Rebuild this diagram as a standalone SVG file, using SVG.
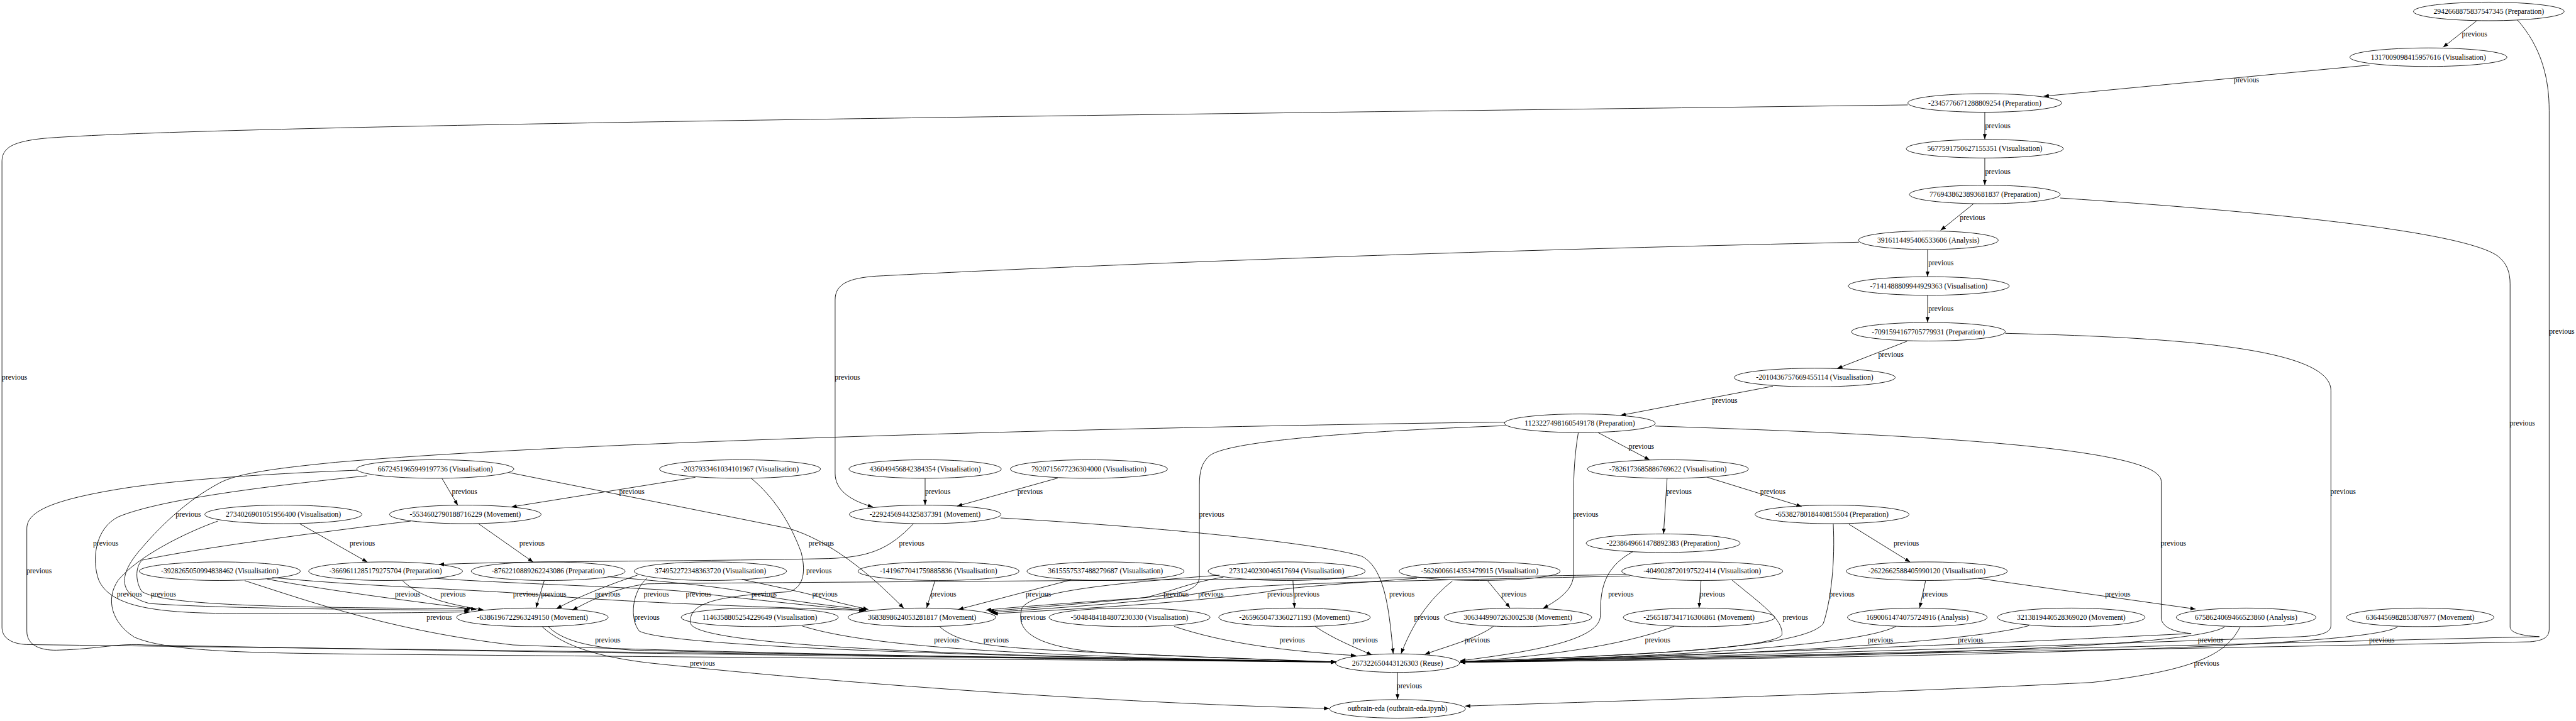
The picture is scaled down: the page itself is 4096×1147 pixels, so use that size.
<svg xmlns="http://www.w3.org/2000/svg" width="4096" height="1147" viewBox="0 0 4096 1147">
<defs>
<style>
.n ellipse{fill:none;stroke:#000;stroke-width:1.4}
.n text,.e text{font-family:"Liberation Serif","Times New Roman",serif;font-size:18.67px;text-anchor:middle;fill:#000}
.e path{fill:none;stroke:#000;stroke-width:1.4;marker-end:url(#ah)}
</style>
<marker id="ah" markerUnits="userSpaceOnUse" markerWidth="16" markerHeight="12" refX="13.3" refY="5" orient="auto"><path d="M0,0 L13.3,5 L0,10 z" fill="#000"/></marker>
</defs>
<rect width="4096" height="1147" fill="#fff"/>
<g transform="scale(0.62755)">
<g id="edges" class="e">
<path d="M6275,53 L6190,120"/><text x="6270" y="92">previous</text>
<path d="M6378,50 C6440,120 6459,200 6459,280 L6459,1595 C6459,1615 6445,1624 6410,1627 C5500,1645 4300,1665 3700,1679"/><text x="6491" y="846">previous</text>
<path d="M6004,165 L5178,244"/><text x="5692" y="209">previous</text>
<path d="M5029,285 L5029,353"/><text x="5062" y="325">previous</text>
<path d="M4834,266 C3000,290 600,315 120,350 C30,358 5,375 5,410 L5,1590 C5,1615 25,1632 68,1634 C1500,1652 2800,1668 3385,1678"/><text x="37" y="963">previous</text>
<path d="M5029,401 L5029,469"/><text x="5062" y="441">previous</text>
<path d="M5000,517 L4917,584"/><text x="4998" y="557">previous</text>
<path d="M5220,502 C5800,540 6250,590 6330,650 C6352,668 6360,690 6360,720 L6360,1590 C6362,1606 6395,1612 6434,1614 C5800,1628 4600,1662 3700,1679"/><text x="6391" y="1079">previous</text>
<path d="M4884,633 L4884,701"/><text x="4918" y="673">previous</text>
<path d="M4710,614 C3500,640 2600,680 2220,700 C2150,705 2116,720 2116,760 L2116,1200 C2116,1240 2150,1268 2212,1285"/><text x="2147" y="962">previous</text>
<path d="M4884,749 L4884,817"/><text x="4918" y="788">previous</text>
<path d="M4832,865 L4655,934"/><text x="4791" y="905">previous</text>
<path d="M5081,845 C5500,855 5906,880 5906,990 L5906,1585 C5906,1603 5885,1611 5830,1614 C5200,1638 4400,1662 3700,1679"/><text x="5937" y="1253">previous</text>
<path d="M4492,979 L4106,1053"/><text x="4370" y="1021">previous</text>
<path d="M4050,1097 L4180,1166"/><text x="4159" y="1137">previous</text>
<path d="M4193,1080 C4800,1100 5476,1130 5476,1220 L5476,1568 C5480,1595 5520,1603 5552,1606 C5300,1618 4900,1640 3700,1679"/><text x="5507" y="1383">previous</text>
<path d="M3999,1097 C3990,1150 3987,1200 3987,1260 L3987,1455 C3987,1495 3950,1520 3910,1542"/><text x="4018" y="1310">previous</text>
<path d="M3815,1079 C3400,1095 3110,1120 3065,1155 C3045,1172 3039,1195 3039,1230 L3039,1460 C3039,1495 3000,1505 2900,1515 C2700,1530 2550,1540 2498,1547"/><text x="3070" y="1310">previous</text>
<path d="M3813,1070 C3000,1080 1500,1115 850,1172 C700,1187 600,1200 555,1225 C470,1270 400,1340 350,1400 C300,1460 300,1510 380,1530 C600,1545 1000,1545 1190,1547"/><text x="477" y="1310">previous</text>
<path d="M2344,1213 L2344,1280"/><text x="2376" y="1253">previous</text>
<path d="M2680,1212 L2425,1283"/><text x="2610" y="1253">previous</text>
<path d="M2314,1328 C2250,1395 2200,1412 2100,1416 C1700,1424 1300,1422 1112,1431"/><text x="2310" y="1383">previous</text>
<path d="M1120,1213 L1160,1281"/><text x="1177" y="1253">previous</text>
<path d="M1762,1210 L1296,1285"/><text x="1601" y="1253">previous</text>
<path d="M760,1328 L931,1425"/><text x="918" y="1383">previous</text>
<path d="M1213,1328 L1351,1425"/><text x="1348" y="1383">previous</text>
<path d="M677,1468 C850,1500 1050,1525 1207,1545"/><text x="1033" y="1513">previous</text>
<path d="M1020,1472 C1060,1510 1120,1530 1225,1546"/><text x="1148" y="1513">previous</text>
<path d="M1379,1472 L1358,1541"/><text x="1403" y="1513">previous</text>
<path d="M1389,1588 C1420,1620 1480,1640 1600,1648 C2300,1665 3000,1674 3385,1679"/><text x="1540" y="1629">previous</text>
<path d="M1374,1589 C1430,1640 1520,1665 1640,1680 C2200,1740 2900,1785 3368,1796"/><text x="1780" y="1687">previous</text>
<path d="M3541,1705 L3541,1773"/><text x="3571" y="1745">previous</text>
<path d="M5676,1589 C5640,1660 5560,1700 5300,1730 C4700,1760 4000,1780 3712,1790"/><text x="5591" y="1687">previous</text>
<path d="M4224,1213 L4215,1353"/><text x="4254" y="1253">previous</text>
<path d="M4326,1210 L4565,1284"/><text x="4492" y="1253">previous</text>
<path d="M4685,1329 L4840,1425"/><text x="4830" y="1383">previous</text>
<path d="M4138,1398 C4060,1440 4055,1500 4055,1560 C4055,1620 3900,1650 3700,1675"/><text x="4107" y="1513">previous</text>
<path d="M4645,1328 C4650,1420 4640,1520 4620,1580 C4580,1640 4200,1660 3700,1677"/><text x="4667" y="1513">previous</text>
<path d="M4879,1472 L4864,1541"/><text x="4903" y="1513">previous</text>
<path d="M5012,1466 L5563,1544"/><text x="5366" y="1513">previous</text>
<path d="M4310,1472 L4305,1541"/><text x="4339" y="1513">previous</text>
<path d="M4388,1470 C4460,1530 4520,1570 4515,1610 C4480,1650 4000,1665 3700,1678"/><text x="4549" y="1571">previous</text>
<path d="M3769,1472 L3826,1541"/><text x="3836" y="1513">previous</text>
<path d="M3680,1473 C3620,1520 3580,1580 3550,1657"/><text x="3615" y="1571">previous</text>
<path d="M2535,1313 C3000,1340 3350,1380 3450,1410 C3510,1440 3520,1550 3530,1657"/><text x="3552" y="1513">previous</text>
<path d="M3332,1588 C3380,1620 3430,1640 3476,1660"/><text x="3459" y="1629">previous</text>
<path d="M3784,1588 C3740,1620 3660,1640 3610,1659"/><text x="3743" y="1629">previous</text>
<path d="M2975,1588 C3100,1630 3250,1650 3436,1662"/><text x="3274" y="1629">previous</text>
<path d="M4242,1588 C4100,1640 3900,1665 3700,1678"/><text x="4200" y="1629">previous</text>
<path d="M4804,1588 C4700,1640 4200,1665 3700,1679"/><text x="4765" y="1629">previous</text>
<path d="M5141,1586 C5000,1625 4500,1660 3700,1679"/><text x="4993" y="1629">previous</text>
<path d="M5637,1589 C5560,1640 4800,1665 3700,1679"/><text x="5601" y="1629">previous</text>
<path d="M6075,1589 C6000,1640 5000,1665 3700,1679"/><text x="6035" y="1629">previous</text>
<path d="M3276,1472 L3280,1541"/><text x="3311" y="1513">previous</text>
<path d="M2033,1587 C2200,1640 2600,1665 3385,1678"/><text x="2399" y="1629">previous</text>
<path d="M2381,1589 C2430,1630 2500,1640 2700,1650 C3000,1665 3200,1672 3385,1678"/><text x="2524" y="1629">previous</text>
<path d="M2369,1472 L2348,1541"/><text x="2391" y="1513">previous</text>
<path d="M2714,1470 L2428,1545"/><text x="2631" y="1513">previous</text>
<path d="M905,1192 C700,1200 450,1215 300,1240 C120,1270 68,1300 68,1340 L68,1600 C68,1640 110,1650 150,1648 C250,1645 300,1630 370,1635 C1500,1658 3000,1672 3385,1678"/><text x="99" y="1454">previous</text>
<path d="M930,1206 C750,1225 420,1260 300,1310 C240,1340 232,1420 250,1470 C280,1540 400,1555 600,1555 C900,1555 1100,1553 1190,1551"/><text x="268" y="1383">previous</text>
<path d="M1041,1321 C800,1350 500,1390 360,1420 C340,1440 345,1480 360,1500 C420,1535 700,1540 1195,1543"/><text x="414" y="1513">previous</text>
<path d="M552,1321 C470,1350 350,1410 300,1470 C265,1520 285,1580 340,1615 C420,1650 600,1655 900,1658 C2000,1668 3000,1675 3385,1678"/><text x="328" y="1513">previous</text>
<path d="M690,1464 C900,1485 1200,1495 1330,1505 C1600,1530 2000,1540 2194,1548"/><text x="1332" y="1513">previous</text>
<path d="M620,1472 C800,1530 1000,1600 1300,1635 C2000,1662 3000,1673 3385,1678"/><text x="1113" y="1571">previous</text>
<path d="M1615,1458 C1550,1480 1470,1510 1410,1543"/><text x="1540" y="1513">previous</text>
<path d="M1640,1465 C1600,1500 1595,1570 1620,1600 C1700,1640 2500,1665 3385,1678"/><text x="1639" y="1571">previous</text>
<path d="M4120,1456 C3500,1470 2000,1475 1640,1480 C1560,1490 1500,1520 1450,1547"/><text x="1663" y="1513">previous</text>
<path d="M1100,1466 C1300,1480 1650,1490 1740,1500 C1900,1520 2100,1540 2190,1548"/><text x="1770" y="1513">previous</text>
<path d="M1540,1462 C1700,1475 1850,1490 1910,1505 C2000,1525 2150,1540 2195,1546"/><text x="1936" y="1513">previous</text>
<path d="M1880,1469 C1980,1490 2050,1505 2070,1512 C2120,1528 2180,1540 2200,1545"/><text x="2090" y="1513">previous</text>
<path d="M1290,1198 C1500,1240 1800,1300 2000,1340 C2100,1370 2200,1450 2290,1542"/><text x="2081" y="1383">previous</text>
<path d="M1903,1212 C1960,1260 2000,1320 2030,1400 C2045,1460 2030,1490 2000,1500 C1850,1510 1740,1520 1750,1580 C1760,1640 2500,1665 3385,1678"/><text x="2075" y="1454">previous</text>
<path d="M3100,1463 C3000,1480 2970,1500 2900,1515 C2700,1535 2550,1545 2505,1550"/><text x="2980" y="1513">previous</text>
<path d="M4130,1460 C3600,1472 3150,1478 3060,1500 C2900,1530 2600,1545 2510,1553"/><text x="3068" y="1513">previous</text>
<path d="M3590,1466 C3400,1480 3250,1490 3212,1500 C3000,1530 2700,1545 2515,1556"/><text x="3243" y="1513">previous</text>
<path d="M3090,1458 C2800,1480 2620,1500 2590,1540 C2570,1600 2620,1640 2800,1655 C3100,1668 3300,1675 3385,1678"/><text x="2618" y="1571">previous</text>
</g>
<g id="n1" class="n"><ellipse cx="6306" cy="29" rx="191" ry="23.5"/><text x="6306" y="35">2942668875837547345 (Preparation)</text></g>
<g id="n2" class="n"><ellipse cx="6153" cy="145" rx="199" ry="23.5"/><text x="6153" y="151">1317009098415957616 (Visualisation)</text></g>
<g id="n3" class="n"><ellipse cx="5029" cy="261" rx="195" ry="23.5"/><text x="5029" y="267">-2345776671288809254 (Preparation)</text></g>
<g id="n4" class="n"><ellipse cx="5029" cy="377" rx="199" ry="23.5"/><text x="5029" y="383">5677591750627155351 (Visualisation)</text></g>
<g id="n5" class="n"><ellipse cx="5029" cy="493" rx="191" ry="23.5"/><text x="5029" y="499">7769438623893681837 (Preparation)</text></g>
<g id="n6" class="n"><ellipse cx="4886" cy="609" rx="177" ry="23.5"/><text x="4886" y="615">3916114495406533606 (Analysis)</text></g>
<g id="n7" class="n"><ellipse cx="4887" cy="725" rx="204" ry="23.5"/><text x="4887" y="731">-7141488809944929363 (Visualisation)</text></g>
<g id="n8" class="n"><ellipse cx="4886" cy="841" rx="195" ry="23.5"/><text x="4886" y="847">-7091594167705779931 (Preparation)</text></g>
<g id="n9" class="n"><ellipse cx="4598" cy="957" rx="204" ry="23.5"/><text x="4598" y="963">-2010436757669455114 (Visualisation)</text></g>
<g id="n10" class="n"><ellipse cx="4003" cy="1073" rx="191" ry="23.5"/><text x="4003" y="1079">1123227498160549178 (Preparation)</text></g>
<g id="n11" class="n"><ellipse cx="1103" cy="1189" rx="199" ry="23.5"/><text x="1103" y="1195">6672451965949197736 (Visualisation)</text></g>
<g id="n12" class="n"><ellipse cx="1875" cy="1189" rx="204" ry="23.5"/><text x="1875" y="1195">-2037933461034101967 (Visualisation)</text></g>
<g id="n13" class="n"><ellipse cx="2344" cy="1189" rx="193" ry="23.5"/><text x="2344" y="1195">436049456842384354 (Visualisation)</text></g>
<g id="n14" class="n"><ellipse cx="2759" cy="1189" rx="199" ry="23.5"/><text x="2759" y="1195">7920715677236304000 (Visualisation)</text></g>
<g id="n15" class="n"><ellipse cx="4226" cy="1189" rx="204" ry="23.5"/><text x="4226" y="1195">-7826173685886769622 (Visualisation)</text></g>
<g id="n16" class="n"><ellipse cx="1179" cy="1304" rx="192" ry="23.5"/><text x="1179" y="1310">-5534602790188716229 (Movement)</text></g>
<g id="n17" class="n"><ellipse cx="2344" cy="1304" rx="192" ry="23.5"/><text x="2344" y="1310">-2292456944325837391 (Movement)</text></g>
<g id="n18" class="n"><ellipse cx="718" cy="1304" rx="199" ry="23.5"/><text x="718" y="1310">2734026901051956400 (Visualisation)</text></g>
<g id="n19" class="n"><ellipse cx="4214" cy="1377" rx="195" ry="23.5"/><text x="4214" y="1383">-2238649661478892383 (Preparation)</text></g>
<g id="n20" class="n"><ellipse cx="4642" cy="1304" rx="195" ry="23.5"/><text x="4642" y="1310">-6538278018440815504 (Preparation)</text></g>
<g id="n21" class="n"><ellipse cx="557" cy="1448" rx="204" ry="23.5"/><text x="557" y="1454">-3928265050994838462 (Visualisation)</text></g>
<g id="n22" class="n"><ellipse cx="977" cy="1448" rx="195" ry="23.5"/><text x="977" y="1454">-3669611285179275704 (Preparation)</text></g>
<g id="n23" class="n"><ellipse cx="1389" cy="1448" rx="195" ry="23.5"/><text x="1389" y="1454">-8762210889262243086 (Preparation)</text></g>
<g id="n24" class="n"><ellipse cx="1800" cy="1448" rx="193" ry="23.5"/><text x="1800" y="1454">374952272348363720 (Visualisation)</text></g>
<g id="n25" class="n"><ellipse cx="2378" cy="1448" rx="204" ry="23.5"/><text x="2378" y="1454">-1419677041759885836 (Visualisation)</text></g>
<g id="n26" class="n"><ellipse cx="2801" cy="1448" rx="199" ry="23.5"/><text x="2801" y="1454">3615557537488279687 (Visualisation)</text></g>
<g id="n27" class="n"><ellipse cx="3260" cy="1448" rx="199" ry="23.5"/><text x="3260" y="1454">2731240230046517694 (Visualisation)</text></g>
<g id="n28" class="n"><ellipse cx="3749" cy="1448" rx="204" ry="23.5"/><text x="3749" y="1454">-5626006614353479915 (Visualisation)</text></g>
<g id="n29" class="n"><ellipse cx="4313" cy="1448" rx="204" ry="23.5"/><text x="4313" y="1454">-4049028720197522414 (Visualisation)</text></g>
<g id="n30" class="n"><ellipse cx="4882" cy="1448" rx="204" ry="23.5"/><text x="4882" y="1454">-2622662588405990120 (Visualisation)</text></g>
<g id="n31" class="n"><ellipse cx="1349" cy="1565" rx="192" ry="23.5"/><text x="1349" y="1571">-6386196722963249150 (Movement)</text></g>
<g id="n32" class="n"><ellipse cx="1925" cy="1565" rx="199" ry="23.5"/><text x="1925" y="1571">1146358805254229649 (Visualisation)</text></g>
<g id="n33" class="n"><ellipse cx="2336" cy="1565" rx="187" ry="23.5"/><text x="2336" y="1571">3683898624053281817 (Movement)</text></g>
<g id="n34" class="n"><ellipse cx="2862" cy="1565" rx="204" ry="23.5"/><text x="2862" y="1571">-5048484184807230330 (Visualisation)</text></g>
<g id="n35" class="n"><ellipse cx="3280" cy="1565" rx="192" ry="23.5"/><text x="3280" y="1571">-2659650473360271193 (Movement)</text></g>
<g id="n36" class="n"><ellipse cx="3846" cy="1565" rx="187" ry="23.5"/><text x="3846" y="1571">3063449907263002538 (Movement)</text></g>
<g id="n37" class="n"><ellipse cx="4305" cy="1565" rx="192" ry="23.5"/><text x="4305" y="1571">-2565187341716306861 (Movement)</text></g>
<g id="n38" class="n"><ellipse cx="4858" cy="1565" rx="177" ry="23.5"/><text x="4858" y="1571">1690061474075724916 (Analysis)</text></g>
<g id="n39" class="n"><ellipse cx="5248" cy="1565" rx="187" ry="23.5"/><text x="5248" y="1571">3213819440528369020 (Movement)</text></g>
<g id="n40" class="n"><ellipse cx="5691" cy="1565" rx="177" ry="23.5"/><text x="5691" y="1571">6758624069466523860 (Analysis)</text></g>
<g id="n41" class="n"><ellipse cx="6132" cy="1565" rx="187" ry="23.5"/><text x="6132" y="1571">6364456982853876977 (Movement)</text></g>
<g id="n42" class="n"><ellipse cx="3541" cy="1681" rx="157" ry="23.5"/><text x="3541" y="1687">267322650443126303 (Reuse)</text></g>
<g id="n43" class="n"><ellipse cx="3541" cy="1797" rx="172" ry="23.5"/><text x="3541" y="1803">outbrain-eda (outbrain-eda.ipynb)</text></g>
</g>
</svg>
